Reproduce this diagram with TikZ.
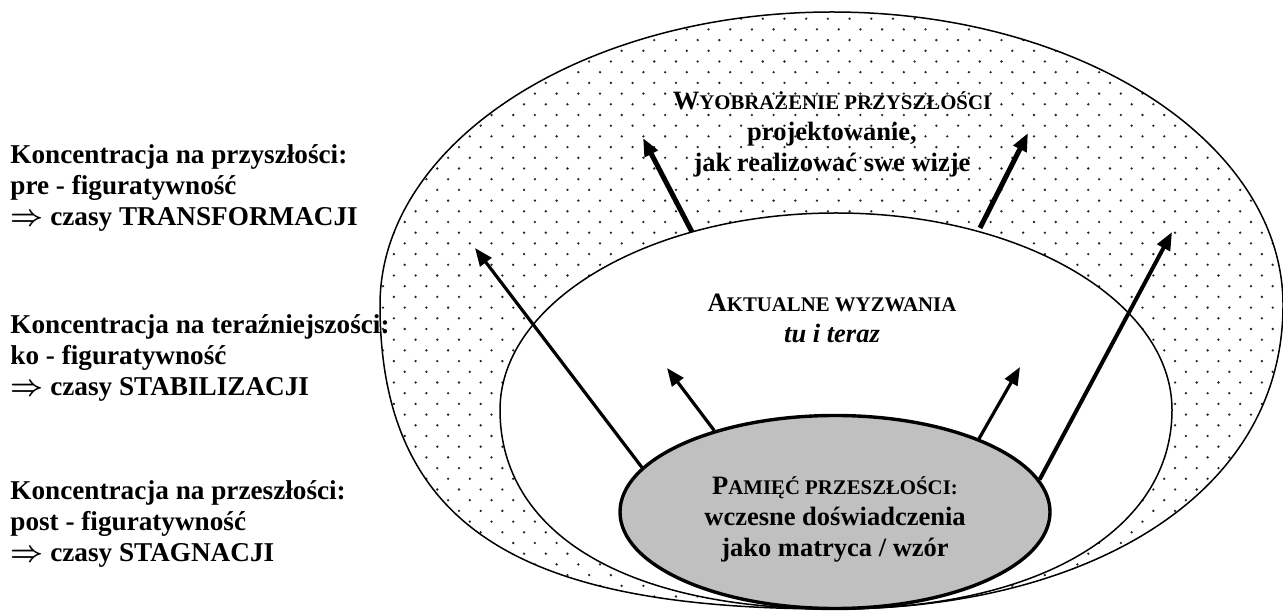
\documentclass[tikz,border=0pt]{standalone}
\usepackage{fontspec}
\setmainfont{Liberation Serif}
\usetikzlibrary{arrows.meta,shapes.geometric}
\definecolor{pastgray}{RGB}{192,192,192}
\newcommand{\mysc}[2]{#1{\fontsize{10.4pt}{15.5pt}\selectfont #2}}
\newcommand{\impl}{{\boldmath\smash{$\Rightarrow$}}}
\begin{document}
\begin{tikzpicture}[x=0.5pt,y=-0.5pt,
  every node/.style={font=\fontsize{13.25pt}{15.5pt}\selectfont\bfseries, inner sep=0pt},
  bound/.style={line width=0.75pt},
  arr/.style={-{Triangle[length=9pt,width=7pt]}},
  sidetext/.style={align=left, anchor=west, font=\fontsize{13.6pt}{15.3pt}\selectfont\bfseries},
  ]
\useasboundingbox (0,0) rectangle (1283,613);
\def\outerpath{(835,609) .. controls (540,609) and (380,540) .. (380,305)
  .. controls (380,143.2) and (582.4,12) .. (832,12)
  .. controls (1081.6,12) and (1283,143.2) .. (1283,305)
  .. controls (1283,500) and (1080,609) .. (835,609) -- cycle}
\def\innerpath{(835,609) .. controls (620,609) and (500,530) .. (500,410)
  .. controls (500,301.2) and (650.4,213) .. (836,213)
  .. controls (1021.6,213) and (1172,301.2) .. (1172,410)
  .. controls (1172,530) and (1040,609) .. (835,609) -- cycle}
% dotted ring
\begin{scope}
\clip \outerpath;
\foreach \j [evaluate=\j as \off using {mod(\j,2)*10.85}] in {0,...,56}{
  \foreach \i in {0,...,42}{
    \fill[black!85] (383+\i*21.7+\off, 8+\j*10.7) circle[radius=0.65pt];
  }}
\end{scope}
\fill[white] \innerpath;
\draw[bound] \innerpath;
\draw[bound] \outerpath;
% past
\node[ellipse, draw, line width=1.7pt, fill=pastgray, minimum width=215pt, minimum height=96.5pt] (past) at (835,512) {};
\node[align=center] (pasttext) at (835,519)
  {\mysc{P}{AMIĘĆ PRZESZŁOŚCI:}\\ wczesne doświadczenia\\ jako matryca / wzór};
% texts
\node[align=center] (future) at (832,134) {\mysc{W}{YOBRAŻENIE PRZYSZŁOŚCI}\\ projektowanie,\\ jak realizować swe wizje};
\node[align=center] (present) at (832,318) {\mysc{A}{KTUALNE WYZWANIA}\\ \textit{tu i teraz}};
\node[sidetext] (l1) at (10,188) {Koncentracja na przyszłości:\\ pre - figuratywność\\ \impl{} czasy TRANSFORMACJI};
\node[sidetext] (l2) at (10,358) {Koncentracja na teraźniejszości:\\ ko - figuratywność\\ \impl{} czasy STABILIZACJI};
\node[sidetext] (l3) at (10,524) {Koncentracja na przeszłości:\\ post - figuratywność\\ \impl{} czasy STAGNACJI};
% arrows
\coordinate (s1) at (692,232);
\coordinate (t1) at (643,138);
\coordinate (s2) at (980,228);
\coordinate (t2) at (1028,133);
\coordinate (t3) at (475,248);
\coordinate (t4) at (1172,232);
\coordinate (t5) at (667,368);
\coordinate (t6) at (1020,367);
\draw[arr, line width=2.5pt] (s1) -- (t1);
\draw[arr, line width=2.5pt] (s2) -- (t2);
\draw[arr, line width=1.6pt] (past.167) -- (t3);
\draw[arr, line width=2pt] (past.9) -- (t4);
\draw[arr, line width=1.6pt] (past.146) -- (t5);
\draw[arr, line width=1.6pt] (past.27) -- (t6);
\end{tikzpicture}
\end{document}
